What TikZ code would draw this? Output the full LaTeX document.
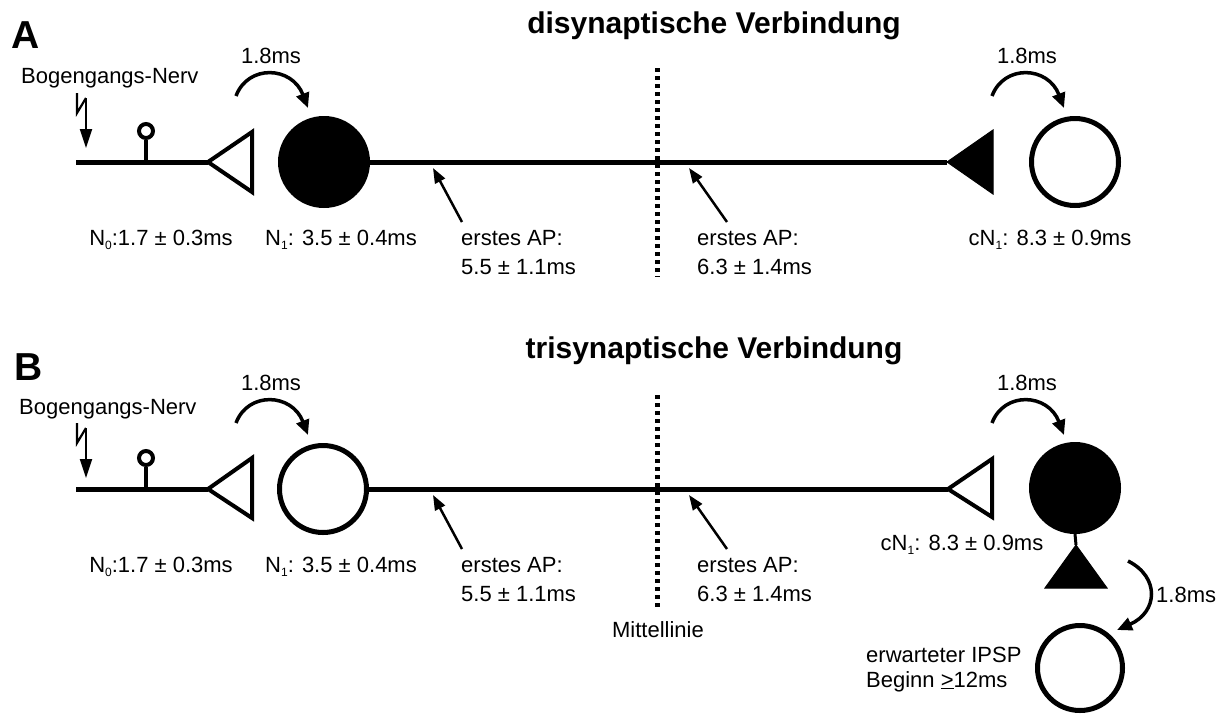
\documentclass[tikz,border=0pt]{standalone}
\usepackage{fontspec}
\setmainfont{Liberation Sans}
\usetikzlibrary{arrows.meta}
\newcommand{\lowidx}[1]{\raisebox{-4pt}{\fontsize{12}{12}\selectfont #1}}
\tikzset{
  lbl/.style={font=\fontsize{22}{26}\selectfont, inner sep=0pt, anchor=base},
  lbll/.style={lbl, anchor=base west},
  ttl/.style={font=\bfseries\fontsize{30}{36}\selectfont, inner sep=0pt, anchor=base},
  panlbl/.style={font=\bfseries\fontsize{39}{39}\selectfont, inner sep=0pt, anchor=base west},
  axon/.style={line width=5pt},
  soma/.style={circle, draw, line width=5pt, minimum size=87pt, inner sep=0pt},
  somaF/.style={soma, fill=black},
  syn/.style={line width=4pt, line join=miter, fill=white},
  synF/.style={line width=1pt, fill=black, draw},
  curv/.style={line width=3.5pt, -{Triangle[length=15pt,width=13pt]}},
  thinarr/.style={line width=2.5pt, -{Triangle[length=15pt,width=11pt]}},
  stim/.style={line width=2.2pt, -{Triangle[length=19pt,width=12pt]}},
  midline/.style={line width=5pt, dash pattern=on 4pt off 4pt},
  lolli/.style={circle, draw, line width=4pt, minimum size=14pt, inner sep=0pt},
}
\begin{document}
\begin{tikzpicture}[x=1pt,y=-1pt]
\path[use as bounding box] (0,0) rectangle (1226,713);

% ================= Panel A =================
\node[panlbl] (labA) at (11,48) {A};
\node[ttl] (titA) at (714,33) {disynaptische Verbindung};
\node[lbll] (bnA) at (21,83) {Bogengangs-Nerv};
% stimulus
\coordinate (stA0) at (77,93);
\coordinate (stA1) at (77,113);
\coordinate (stA2) at (86,98);
\coordinate (stAt) at (86,148);
\draw[line width=2.2pt] (stA0) -- (stA1) -- (stA2);
\draw[stim] (stA2) -- (stAt);
% N0 axon
\coordinate (axA0) at (76,162);
\coordinate (trA) at (208,162);
\draw[axon] (axA0) -- (trA);
\node[lolli] (lolA) at (146,131) {};
\draw[line width=3.5pt] (lolA.south) -- (146,162);
\draw[syn] (trA) -- (252,132) -- (252,192) -- cycle;
% N1
\node[somaF] (n1A) at (324,162) {};
\coordinate (trRA) at (947,162);
\draw[axon] (n1A.east) -- (trRA);
\draw[synF] (trRA) -- (993,130) -- (993,194) -- cycle;
\node[soma] (cn1A) at (1075,162) {};
% delay arrows
\coordinate (dA1s) at (236,96);
\coordinate (dA1e) at (308,108);
\draw[curv] (dA1s) .. controls (248,64) and (292,66) .. (dA1e);
\node[lbl] (dA1l) at (271,63) {1.8ms};
\coordinate (dA2s) at (992,96);
\coordinate (dA2e) at (1064,108);
\draw[curv] (dA2s) .. controls (1004,64) and (1048,66) .. (dA2e);
\node[lbl] (dA2l) at (1027,63) {1.8ms};
% labels
\node[lbl] (n0lA) at (161,245) {N\lowidx{0}:1.7 ± 0.3ms};
\node[lbl] (n1lA) at (341,245) {N\lowidx{1}: 3.5 ± 0.4ms};
\node[lbl] (cnlA) at (1050,245) {cN\lowidx{1}: 8.3 ± 0.9ms};
\node[lbll] (ap1aA) at (461,245) {erstes AP:};
\node[lbll] (ap1bA) at (461,274) {5.5 ± 1.1ms};
\node[lbll] (ap2aA) at (697,245) {erstes AP:};
\node[lbll] (ap2bA) at (697,274) {6.3 ± 1.4ms};
\coordinate (ap1sA) at (462,222);
\coordinate (ap1tA) at (433,168);
\draw[thinarr] (ap1sA) -- (ap1tA);
\coordinate (ap2sA) at (727,222);
\coordinate (ap2tA) at (689,168);
\draw[thinarr] (ap2sA) -- (ap2tA);
% midline
\coordinate (mlA0) at (657,68);
\coordinate (mlA1) at (657,277);
\draw[midline] (mlA0) -- (mlA1);

% ================= Panel B =================
\begin{scope}[shift={(0,327)}]
\node[panlbl] (labB) at (14,53) {B};
\node[ttl] (titB) at (714,31) {trisynaptische Verbindung};
\node[lbll] (bnB) at (19,87) {Bogengangs-Nerv};
\coordinate (stB0) at (77,96);
\coordinate (stB1) at (77,116);
\coordinate (stB2) at (86,101);
\coordinate (stBt) at (86,151);
\draw[line width=2.2pt] (stB0) -- (stB1) -- (stB2);
\draw[stim] (stB2) -- (stBt);
\coordinate (axB0) at (76,162);
\coordinate (trB) at (208,162);
\draw[axon] (axB0) -- (trB);
\node[lolli] (lolB) at (146,131) {};
\draw[line width=3.5pt] (lolB.south) -- (146,162);
\draw[syn] (trB) -- (252,131) -- (252,191) -- cycle;
\node[soma] (n1B) at (323,162) {};
\coordinate (trRB) at (948,162);
\draw[axon] (n1B.east) -- (trRB);
\draw[syn] (trRB) -- (992,132) -- (992,190) -- cycle;
\node[somaF] (cn1B) at (1075,161) {};
\coordinate (apxB) at (1076,218);
\draw[line width=3pt] (cn1B.south) -- (apxB);
\draw[synF] (apxB) -- (1107,261) -- (1045,261) -- cycle;
\node[soma, minimum size=85pt] (ipB) at (1080,341) {};
% delay arrows
\coordinate (dB1s) at (236,96);
\coordinate (dB1e) at (308,108);
\draw[curv] (dB1s) .. controls (248,64) and (292,66) .. (dB1e);
\node[lbl] (dB1l) at (271,63) {1.8ms};
\coordinate (dB2s) at (992,96);
\coordinate (dB2e) at (1064,108);
\draw[curv] (dB2s) .. controls (1004,64) and (1048,66) .. (dB2e);
\node[lbl] (dB2l) at (1027,63) {1.8ms};
\coordinate (dB3s) at (1128,234);
\coordinate (dB3e) at (1117,303);
\draw[curv] (dB3s) .. controls (1160,250) and (1158,285) .. (dB3e);
\node[lbll] (dB3l) at (1156,275) {1.8ms};
% labels
\node[lbl] (n0lB) at (161,245) {N\lowidx{0}:1.7 ± 0.3ms};
\node[lbl] (n1lB) at (341,245) {N\lowidx{1}: 3.5 ± 0.4ms};
\node[lbl] (cnlB) at (962,223) {cN\lowidx{1}: 8.3 ± 0.9ms};
\node[lbll] (ap1aB) at (461,245) {erstes AP:};
\node[lbll] (ap1bB) at (461,274) {5.5 ± 1.1ms};
\node[lbll] (ap2aB) at (697,245) {erstes AP:};
\node[lbll] (ap2bB) at (697,274) {6.3 ± 1.4ms};
\coordinate (ap1sB) at (462,222);
\coordinate (ap1tB) at (433,168);
\draw[thinarr] (ap1sB) -- (ap1tB);
\coordinate (ap2sB) at (727,222);
\coordinate (ap2tB) at (689,168);
\draw[thinarr] (ap2sB) -- (ap2tB);
\coordinate (mlB0) at (657,68);
\coordinate (mlB1) at (657,281);
\draw[midline] (mlB0) -- (mlB1);
\node[lbl] (mlBl) at (658,310) {Mittellinie};
\node[lbll] (ipl1) at (866,335) {erwarteter IPSP};
\node[lbll] (ipl2) at (866,360) {Beginn \underline{>}12ms};
\end{scope}
\end{tikzpicture}
\end{document}
